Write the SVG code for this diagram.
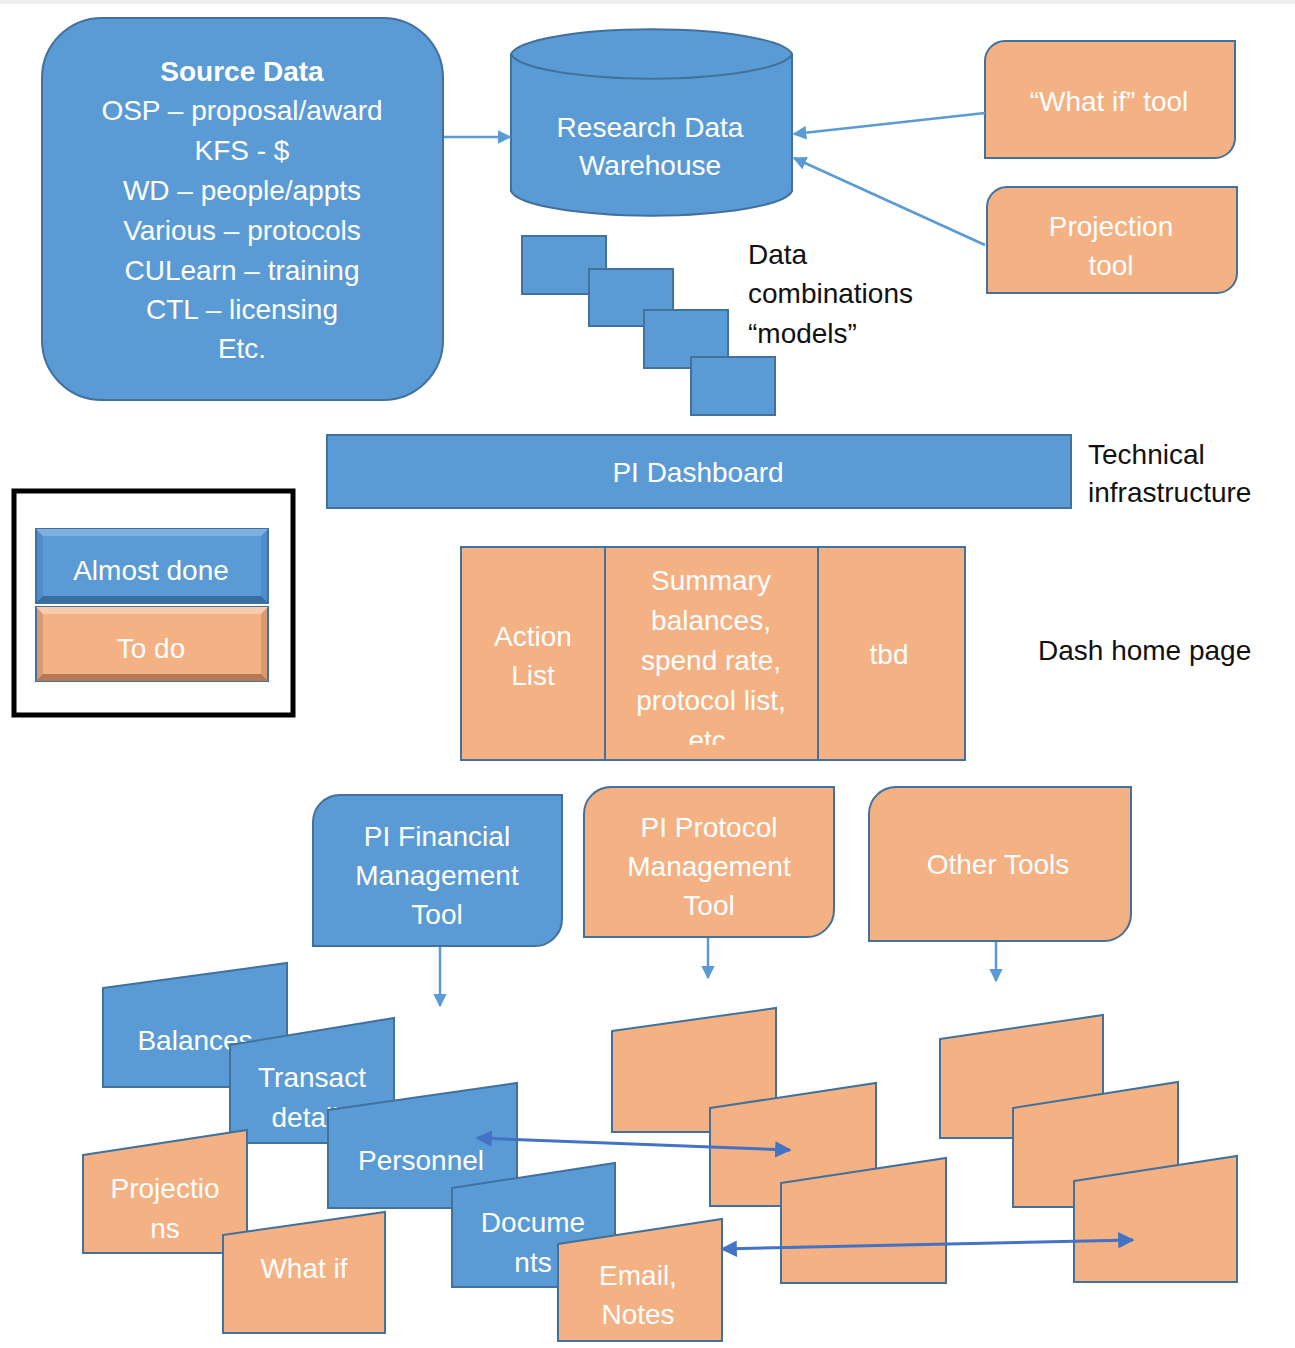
<svg xmlns="http://www.w3.org/2000/svg" width="1295" height="1348" viewBox="0 0 1295 1348">
<style>
.b{fill:#5B9BD5;stroke:#41719C;stroke-width:2}
.o{fill:#F4B183;stroke:#41719C;stroke-width:2}
.w{fill:#fff;font-family:"Liberation Sans",Arial,sans-serif;font-size:28px;text-anchor:middle}
.k{fill:#111;font-family:"Liberation Sans",Arial,sans-serif;font-size:28px}
.c{fill:none;stroke:#5B9BD5;stroke-width:2.5}
.d{fill:none;stroke:#4472C4;stroke-width:3}
</style>
<defs>
<marker id="ah" viewBox="0 0 10 10" refX="9" refY="5" markerWidth="5.5" markerHeight="5.5" orient="auto-start-reverse" markerUnits="strokeWidth"><path d="M0,0 L10,5 L0,10 Z" fill="#5B9BD5"/></marker>
<marker id="ad" viewBox="0 0 10 10" refX="9" refY="5" markerWidth="5.5" markerHeight="5.5" orient="auto-start-reverse" markerUnits="strokeWidth"><path d="M0,0 L10,5 L0,10 Z" fill="#4472C4"/></marker>
<clipPath id="etcclip"><rect x="606" y="548" width="212" height="197"/></clipPath>
</defs>
<rect x="0" y="0" width="1295" height="1348" fill="#fff"/>
<rect x="0" y="0" width="1295" height="4" fill="#eeeeee"/>

<g id="source-data">
<rect class="b" x="42" y="18" width="401" height="382" rx="60"/>
<text class="w" x="242" y="81" font-weight="bold">Source Data</text>
<text class="w" x="242" y="120">OSP – proposal/award</text>
<text class="w" x="242" y="160">KFS - $</text>
<text class="w" x="242" y="200">WD – people/appts</text>
<text class="w" x="242" y="240">Various – protocols</text>
<text class="w" x="242" y="280">CULearn – training</text>
<text class="w" x="242" y="319">CTL – licensing</text>
<text class="w" x="242" y="358">Etc.</text>
</g>

<g id="warehouse">
<path class="b" d="M511,54 A141,27 0 0 1 792,54 V191 A141,27 0 0 1 511,191 Z"/>
<path d="M511,54 A141,27 0 0 0 792,54" fill="none" stroke="#41719C" stroke-width="2"/>
<text class="w" x="650" y="137">Research Data</text>
<text class="w" x="650" y="175">Warehouse</text>
</g>

<g id="whatif-tool">
<path class="o" d="M1005,41 H1235 V138 A20,20 0 0 1 1215,158 H985 V61 A20,20 0 0 1 1005,41 Z"/>
<text class="w" x="1109" y="111">“What if” tool</text>
</g>

<g id="projection-tool">
<path class="o" d="M1007,187 H1237 V273 A20,20 0 0 1 1217,293 H987 V207 A20,20 0 0 1 1007,187 Z"/>
<text class="w" x="1111" y="236">Projection</text>
<text class="w" x="1111" y="275">tool</text>
</g>

<g id="models">
<rect class="b" x="522" y="236" width="84" height="58"/>
<rect class="b" x="589" y="269" width="84" height="57"/>
<rect class="b" x="644" y="310" width="84" height="58"/>
<rect class="b" x="691" y="357" width="84" height="58"/>
<text class="k" x="748" y="264">Data</text>
<text class="k" x="748" y="303">combinations</text>
<text class="k" x="748" y="343">“models”</text>
</g>

<g id="pi-dashboard">
<rect class="b" x="327" y="435" width="744" height="73"/>
<text class="w" x="698" y="482">PI Dashboard</text>
<text class="k" x="1088" y="464">Technical</text>
<text class="k" x="1088" y="502">infrastructure</text>
</g>

<g id="legend">
<rect x="14" y="491" width="279" height="224" fill="none" stroke="#000" stroke-width="5"/>
<rect x="36" y="529" width="232" height="74" fill="#4F8CC9" stroke="#41719C" stroke-width="2"/>
<polygon points="36,529 268,529 261,536 43,536" fill="#7FB0E0"/>
<polygon points="36,603 268,603 261,596 43,596" fill="#3A6E9E"/>
<rect x="43" y="536" width="218" height="60" fill="#5B9BD5"/>
<text class="w" x="151" y="580" font-size="27">Almost done</text>
<rect x="36" y="607" width="232" height="74" fill="#D99A72" stroke="#41719C" stroke-width="2"/>
<polygon points="36,607 268,607 261,614 43,614" fill="#F8CBAD"/>
<polygon points="36,681 268,681 261,674 43,674" fill="#B57A55"/>
<rect x="43" y="614" width="218" height="60" fill="#F4B183"/>
<text class="w" x="151" y="658" font-size="27">To do</text>
</g>

<g id="dash-home">
<rect class="o" x="461" y="547" width="144" height="213"/>
<rect class="o" x="605" y="547" width="213" height="213"/>
<rect class="o" x="818" y="547" width="147" height="213"/>
<text class="w" x="533" y="646">Action</text>
<text class="w" x="533" y="685">List</text>
<g clip-path="url(#etcclip)">
<text class="w" x="711" y="590">Summary</text>
<text class="w" x="711" y="630">balances,</text>
<text class="w" x="711" y="670">spend rate,</text>
<text class="w" x="711" y="710">protocol list,</text>
<text class="w" x="711" y="750">etc.</text>
</g>
<text class="w" x="889" y="664">tbd</text>
<text class="k" x="1038" y="660">Dash home page</text>
</g>

<g id="pi-financial">
<path class="b" d="M340,795 H562 V919 A27,27 0 0 1 535,946 H313 V822 A27,27 0 0 1 340,795 Z"/>
<text class="w" x="437" y="846">PI Financial</text>
<text class="w" x="437" y="885">Management</text>
<text class="w" x="437" y="924">Tool</text>
</g>

<g id="pi-protocol">
<path class="o" d="M611,787 H834 V910 A27,27 0 0 1 807,937 H584 V814 A27,27 0 0 1 611,787 Z"/>
<text class="w" x="709" y="837">PI Protocol</text>
<text class="w" x="709" y="876">Management</text>
<text class="w" x="709" y="915">Tool</text>
</g>

<g id="other-tools">
<path class="o" d="M896,787 H1131 V914 A27,27 0 0 1 1104,941 H869 V814 A27,27 0 0 1 896,787 Z"/>
<text class="w" x="998" y="874">Other Tools</text>
</g>

<g id="fin-cards">
<g id="balances"><polygon class="b" points="103,988 287,963 287,1087 103,1087"/><text class="w" x="195" y="1050">Balances</text></g>
<g id="transact"><polygon class="b" points="230,1045 394,1018 394,1143 230,1143"/><text class="w" x="312" y="1087">Transact</text><text class="w" x="312" y="1127">details</text></g>
<g id="projections"><polygon class="o" points="83,1155 247,1130 247,1253 83,1253"/><text class="w" x="165" y="1198">Projectio</text><text class="w" x="165" y="1238">ns</text></g>
<g id="personnel"><polygon class="b" points="328,1110 517,1083 517,1208 328,1208"/><text class="w" x="421" y="1170">Personnel</text></g>
<g id="whatif"><polygon class="o" points="223,1235 385,1212 385,1333 223,1333"/><text class="w" x="304" y="1278">What if</text></g>
<g id="documents"><polygon class="b" points="452,1188 615,1163 615,1287 452,1287"/><text class="w" x="533" y="1232">Docume</text><text class="w" x="533" y="1272">nts</text></g>
<g id="email"><polygon class="o" points="558,1244 722,1219 722,1341 558,1341"/><text class="w" x="638" y="1285">Email,</text><text class="w" x="638" y="1324">Notes</text></g>
</g>

<g id="protocol-cards">
<polygon class="o" points="612,1031 776,1008 776,1132 612,1132"/>
<polygon class="o" points="710,1108 876,1083 876,1206 710,1206"/>
<polygon class="o" points="781,1183 946,1158 946,1283 781,1283"/>
</g>

<g id="other-cards">
<polygon class="o" points="940,1039 1103,1015 1103,1138 940,1138"/>
<polygon class="o" points="1013,1108 1178,1082 1178,1207 1013,1207"/>
<polygon class="o" points="1074,1181 1237,1156 1237,1282 1074,1282"/>
</g>

<g id="connectors">
<line class="c" x1="444" y1="137" x2="510" y2="137" marker-end="url(#ah)"/>
<line class="c" x1="985" y1="113" x2="794" y2="134" marker-end="url(#ah)"/>
<line class="c" x1="985" y1="245" x2="794" y2="158" marker-end="url(#ah)"/>
<line class="c" x1="440" y1="947" x2="440" y2="1006" marker-end="url(#ah)"/>
<line class="c" x1="708" y1="938" x2="708" y2="978" marker-end="url(#ah)"/>
<line class="c" x1="996" y1="942" x2="996" y2="981" marker-end="url(#ah)"/>
<line class="d" x1="477" y1="1138" x2="790" y2="1150" marker-start="url(#ad)" marker-end="url(#ad)"/>
<line class="d" x1="722" y1="1249" x2="1133" y2="1240" marker-start="url(#ad)" marker-end="url(#ad)"/>
</g>
</svg>
